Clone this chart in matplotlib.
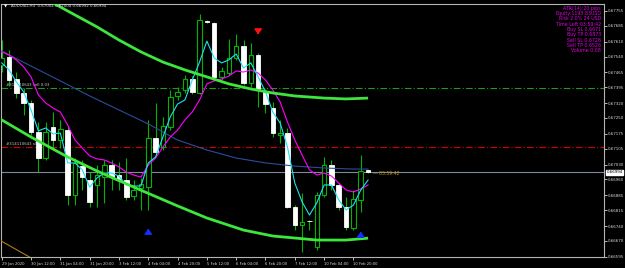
import numpy as np
import matplotlib.pyplot as plt

# ---------------- DATA (AUDUSD H4) ----------------
opens = [0.67500, 0.67538, 0.67434, 0.67368, 0.67321, 0.67184, 0.67061, 0.67208, 0.67146, 0.67193,
         0.66887, 0.67023, 0.66957, 0.66934, 0.66971, 0.67028, 0.66981, 0.66957, 0.66882, 0.66920,
         0.66924, 0.67156, 0.67113, 0.67208, 0.67354, 0.67382, 0.67434, 0.67368, 0.67708, 0.67698,
         0.67444, 0.67462, 0.67533, 0.67590, 0.67415, 0.67547, 0.67373, 0.67297, 0.67170, 0.67179,
         0.66830, 0.66745, 0.66764, 0.66641, 0.66887, 0.67028, 0.66934, 0.66830, 0.66731, 0.66863,
         0.67004]
highs = [0.67618, 0.67571, 0.67467, 0.67392, 0.67335, 0.67231, 0.67231, 0.67278, 0.67241, 0.67212,
         0.67061, 0.67052, 0.66995, 0.67028, 0.67052, 0.67052, 0.67042, 0.67061, 0.66957, 0.66967,
         0.67241, 0.67321, 0.67255, 0.67382, 0.67396, 0.67453, 0.67448, 0.67741, 0.67713, 0.67703,
         0.67491, 0.67623, 0.67647, 0.67618, 0.67604, 0.67557, 0.67387, 0.67326, 0.67241, 0.67203,
         0.66839, 0.66896, 0.66769, 0.66901, 0.67066, 0.67052, 0.66943, 0.66877, 0.66910, 0.67075,
         0.67004]
lows = [0.67467, 0.67401, 0.67344, 0.67264, 0.67170, 0.66995, 0.67052, 0.67099, 0.67108, 0.66839,
        0.66839, 0.66910, 0.66830, 0.66830, 0.66849, 0.66910, 0.66910, 0.66863, 0.66863, 0.66816,
        0.66816, 0.67075, 0.67099, 0.67193, 0.67335, 0.67368, 0.67363, 0.67363, 0.67698, 0.67429,
        0.67429, 0.67453, 0.67524, 0.67406, 0.67396, 0.67302, 0.67274, 0.67160, 0.67132, 0.66825,
        0.66721, 0.66618, 0.66721, 0.66627, 0.66877, 0.66910, 0.66816, 0.66721, 0.66721, 0.66806,
        0.66992]
closes = [0.67533, 0.67429, 0.67368, 0.67321, 0.67184, 0.67061, 0.67184, 0.67146, 0.67198, 0.66887,
          0.67038, 0.66971, 0.66854, 0.66981, 0.67028, 0.66971, 0.66957, 0.66877, 0.66910, 0.66938,
          0.67156, 0.67090, 0.67212, 0.67349, 0.67373, 0.67434, 0.67373, 0.67713, 0.67703, 0.67444,
          0.67472, 0.67533, 0.67590, 0.67415, 0.67547, 0.67387, 0.67316, 0.67179, 0.67179, 0.66830,
          0.66745, 0.66759, 0.66764, 0.66887, 0.67028, 0.66934, 0.66830, 0.66736, 0.66868, 0.67000,
          0.66994]

fast_ma = [0.67510, 0.67477, 0.67420, 0.67373, 0.67288, 0.67189, 0.67203, 0.67175, 0.67179, 0.67038,
           0.67038, 0.67005, 0.66924, 0.66967, 0.66990, 0.66990, 0.66976, 0.66934, 0.66929, 0.66929,
           0.67038, 0.67066, 0.67160, 0.67255, 0.67316, 0.67335, 0.67429, 0.67514, 0.67613, 0.67533,
           0.67510, 0.67524, 0.67552, 0.67486, 0.67510, 0.67444, 0.67373, 0.67278, 0.67226, 0.67113,
           0.66943, 0.66854, 0.66792, 0.66849, 0.66934, 0.66934, 0.66863, 0.66816, 0.66839, 0.66910,
           0.66957]
slow_ma = [0.67562, 0.67547, 0.67524, 0.67491, 0.67444, 0.67359, 0.67321, 0.67297, 0.67278, 0.67217,
           0.67146, 0.67108, 0.67071, 0.67057, 0.67052, 0.67038, 0.67019, 0.66995, 0.66981, 0.66971,
           0.67028, 0.67061, 0.67113, 0.67160, 0.67193, 0.67241, 0.67278, 0.67335, 0.67411, 0.67425,
           0.67434, 0.67448, 0.67472, 0.67467, 0.67477, 0.67462, 0.67429, 0.67382, 0.67326, 0.67231,
           0.67146, 0.67075, 0.67005, 0.66981, 0.66990, 0.66976, 0.66943, 0.66910, 0.66901, 0.66915,
           0.66934]

long_ma_bars = [0, 4, 8, 12, 16, 20, 24, 28, 32, 36, 40, 44, 48, 50]
long_ma = [0.67566, 0.67495, 0.67425, 0.67354, 0.67288, 0.67222, 0.67146, 0.67099, 0.67061, 0.67038,
           0.67023, 0.67014, 0.67009, 0.67009]

upper_bars = [4, 6, 9, 13, 16, 19, 22, 25, 28, 31, 34, 37, 40, 44, 47, 50]
upper_band = [0.67845, 0.67812, 0.67755, 0.67680, 0.67618, 0.67562, 0.67514, 0.67477, 0.67444, 0.67411,
              0.67387, 0.67368, 0.67354, 0.67344, 0.67340, 0.67344]
lower_bars = [-0.3, 0, 4, 9, 13, 18, 24, 28, 33, 37, 43, 47, 50]
lower_band = [0.67245, 0.67241, 0.67160, 0.67066, 0.67000, 0.66924, 0.66835, 0.66778, 0.66721, 0.66693,
              0.66674, 0.66674, 0.66683]

brown_bars = [-0.3, 4.5]
brown_line = [0.66674, 0.66580]

sell_level = 0.67392
sl_level = 0.67113
bid = 0.66994

# arrows: bar, tip price, tail price
sell_arrows = [(35, 0.67632, 0.67665)]
buy_arrows = [(20, 0.66740, 0.66703), (49, 0.66726, 0.66688)]

x_labels = ["29 Jan 2020", "30 Jan 12:00", "31 Jan 04:00", "31 Jan 20:00", "3 Feb 12:00",
            "4 Feb 04:00", "4 Feb 20:00", "5 Feb 12:00", "6 Feb 04:00", "6 Feb 20:00",
            "7 Feb 12:00", "10 Feb 04:00", "10 Feb 20:00"]
y_ticks = [0.67755, 0.67685, 0.67610, 0.67540, 0.67465, 0.67395, 0.67320, 0.67250, 0.67175,
           0.67105, 0.67030, 0.66960, 0.66885, 0.66815, 0.66740, 0.66670, 0.66595]

info_lines = ["ATR(14):20 pips", "Equity:1193.83USD", "Risk 2.0% 24 USD", "Time Left:03:59:42",
              "Buy SL 0.6671", "Buy TP 0.6873", "Sell SL 0.6728", "Sell TP 0.6526", "Volume 0.08"]

# ---------------- PLOT ----------------
W, H = 625, 268
fig = plt.figure(figsize=(W / 100, H / 100), dpi=100, facecolor="black")
ax = fig.add_axes([1 / W, 1 - 257 / H, 603 / W, 253 / H], facecolor="black")

GREEN = "#00b400"
n = len(opens)
xs = np.arange(n)

# horizontal levels
ax.axhline(sell_level, color="#1f9a1f", lw=0.8, ls=(0, (6, 2, 1, 2)), zorder=1)
ax.axhline(sl_level, color="#d00000", lw=0.8, ls=(0, (6, 2, 1, 2)), zorder=1)
ax.axhline(bid, color="#7f8a99", lw=0.8, zorder=1)
ax.text(0.6, sell_level + 0.00003, "#314110643 sell 0.03", color="#c8c8c8", fontsize=2.8, va="bottom")
ax.text(0.6, sl_level + 0.00003, "#314110643 sl", color="#c8c8c8", fontsize=2.8, va="bottom")

# candles
for i in range(n):
    o, h, l, c = opens[i], highs[i], lows[i], closes[i]
    ax.vlines(i, l, h, color=GREEN, lw=0.8, zorder=2)
    bull = c > o
    bottom = min(o, c)
    height = max(abs(c - o), 0.000005)
    if bull:
        ax.bar(i, height, bottom=bottom, width=0.62, color="black", edgecolor=GREEN, lw=0.8, zorder=3)
    else:
        ax.bar(i, height, bottom=bottom, width=0.62, color="white", edgecolor="white", lw=0.6, zorder=3)

# indicators
ax.plot(long_ma_bars, long_ma, color="#2c4c9c", lw=0.8, zorder=4)
ax.plot(xs, slow_ma, color="#ff00ff", lw=0.8, zorder=5)
ax.plot(xs, fast_ma, color="#1ee0f0", lw=0.8, zorder=5)
ax.plot(upper_bars, upper_band, color="#3de63d", lw=2.0, zorder=6, solid_capstyle="butt")
ax.plot(lower_bars, lower_band, color="#3de63d", lw=2.0, zorder=6, solid_capstyle="butt")
ax.plot(brown_bars, brown_line, color="#b07a20", lw=0.8, zorder=4)

for b, tip, tail in sell_arrows:
    ax.annotate("", xy=(b, tip), xytext=(b, tail),
                arrowprops=dict(arrowstyle="-|>,head_width=0.35,head_length=0.45",
                                color="#ff1010", lw=1.3, mutation_scale=6), zorder=7)
for b, tip, tail in buy_arrows:
    ax.annotate("", xy=(b, tip), xytext=(b, tail),
                arrowprops=dict(arrowstyle="-|>,head_width=0.35,head_length=0.45",
                                color="#1030ff", lw=1.3, mutation_scale=6), zorder=7)

# timer next to the last bar
ax.text(n - 0.35, bid - 0.00004, "\u2014 03:59:42", color="#c89a10", fontsize=3.3, va="center")

# axes styling
ax.set_xlim(-0.1, 82.2)
ax.set_ylim(0.66594, 0.67788)
for s in ax.spines.values():
    s.set_color("#b4b4b4")
    s.set_linewidth(0.8)

ax.yaxis.tick_right()
ax.set_yticks(y_ticks)
ax.set_yticklabels([f"{v:.5f}" for v in y_ticks])
ax.tick_params(axis="y", colors="#d8d8d8", labelsize=2.9, length=2, width=0.6, pad=0.8)

ax.set_xticks(np.arange(0, 4 * len(x_labels), 4))
ax.set_xticklabels(x_labels)
ax.tick_params(axis="x", colors="#d8d8d8", labelsize=2.7, length=2, width=0.6, pad=1.5)
for lbl in ax.get_xticklabels():
    lbl.set_ha("left")

# current price box on the price scale
ax.text(1.004, bid, "0.66994", transform=ax.get_yaxis_transform(), color="black", fontsize=2.9,
        va="center", ha="left",
        bbox=dict(boxstyle="square,pad=0.12", facecolor="white", edgecolor="white"))

# header and info block
fig.text(4 / W, 1 - 6 / H, "\u25bc", color="white", fontsize=3.0, va="center")
fig.text(11 / W, 1 - 6 / H, "AUDUSD,H4  0.67004 0.67004 0.66992 0.66994", color="#e0e0e0",
         fontsize=2.9, va="center")
for k, line in enumerate(info_lines):
    fig.text(601 / W, 1 - (8.3 + 5.3 * k) / H, line, color="#e000e0", fontsize=3.4,
             ha="right", va="center")

fig.savefig("out.png", dpi=100, facecolor="black")
